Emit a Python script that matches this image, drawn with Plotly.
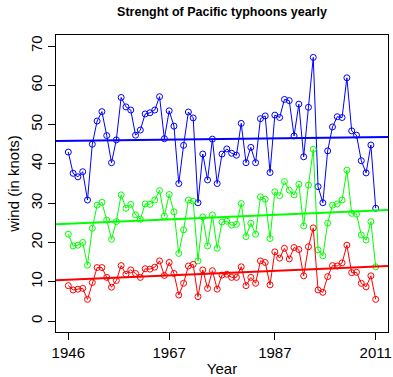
import numpy as np
import plotly.graph_objects as go

# Yearly typhoon wind strength (knots), one value per season
tick_labels = ["1946", "1967", "1987", "2011"]
tick_index = [1, 22, 44, 65]

wind_max = [43.0, 37.6, 36.7, 38.0, 30.8, 45.0, 50.9, 53.3, 47.2, 40.3,
            46.1, 56.9, 54.5, 53.7, 47.3, 48.6, 52.7, 53.0, 53.7, 57.1,
            46.4, 53.5, 49.6, 35.0, 44.7, 53.2, 51.7, 30.1, 42.5, 35.9,
            46.3, 35.0, 42.5, 43.8, 42.7, 42.2, 50.3, 40.3, 44.2, 40.3,
            51.5, 52.2, 37.8, 52.4, 51.8, 56.4, 56.1, 47.1, 55.2, 41.8,
            54.4, 67.1, 34.2, 30.1, 43.3, 49.4, 52.0, 51.8, 61.9, 48.4,
            47.3, 40.8, 37.7, 44.8, 28.7]

wind_mean = [22.1, 19.1, 19.3, 20.0, 14.2, 23.6, 29.5, 30.2, 25.7, 20.8,
             25.3, 32.1, 28.7, 29.7, 27.0, 25.9, 29.8, 29.7, 30.8, 33.2,
             26.7, 32.2, 27.8, 17.2, 23.2, 30.8, 30.5, 15.3, 26.5, 19.1,
             27.0, 18.5, 25.2, 25.4, 24.4, 24.6, 29.9, 21.5, 24.9, 22.1,
             31.6, 31.0, 21.0, 32.9, 31.9, 35.5, 33.3, 32.1, 34.8, 24.2,
             34.6, 43.7, 18.1, 16.6, 24.9, 29.5, 29.8, 30.8, 38.4, 27.4,
             27.2, 21.9, 20.6, 25.3, 13.8]

wind_min = [9.0, 7.9, 8.1, 8.3, 5.5, 9.8, 13.6, 13.6, 11.1, 8.6,
            10.3, 14.1, 11.9, 13.0, 12.1, 11.1, 13.3, 13.2, 13.7, 15.3,
            11.6, 14.9, 12.1, 6.6, 9.6, 14.0, 14.4, 6.2, 13.0, 8.3,
            12.8, 8.1, 11.7, 11.9, 11.1, 11.1, 13.8, 9.0, 11.1, 9.6,
            15.3, 14.9, 9.2, 17.6, 16.0, 18.5, 15.8, 18.7, 18.2, 11.5,
            18.9, 23.7, 7.9, 7.3, 11.3, 14.1, 14.0, 14.8, 19.3, 12.3,
            12.4, 9.6, 8.7, 11.5, 5.5]

series = [(wind_max, "#0000FF"), (wind_mean, "#00FF00"), (wind_min, "#FF0000")]

idx = np.arange(1, len(wind_max) + 1)
pad_x = 0.04 * (idx[-1] - idx[0])
x_range = [idx[0] - pad_x, idx[-1] + pad_x]
y_lim = [0, 70]
pad_y = 0.04 * (y_lim[1] - y_lim[0])
y_range = [y_lim[0] - pad_y, y_lim[1] + pad_y]

fig = go.Figure()
for values, color in series:
    fig.add_trace(go.Scatter(
        x=idx, y=values, mode="lines+markers",
        line=dict(color=color, width=1),
        marker=dict(symbol="circle-open", size=6, color=color,
                    line=dict(color=color, width=1)),
        showlegend=False, hoverinfo="skip"))
    # least-squares trend across the whole plotting region
    slope, intercept = np.polyfit(idx, values, 1)
    xs = np.array(x_range)
    fig.add_trace(go.Scatter(
        x=xs, y=slope * xs + intercept, mode="lines",
        line=dict(color=color, width=2),
        showlegend=False, hoverinfo="skip"))

font_family = "Liberation Sans, Arial, sans-serif"

fig.update_layout(
    width=393, height=377,
    margin=dict(l=56, r=5, t=35, b=45, autoexpand=False),
    plot_bgcolor="white", paper_bgcolor="white",
    font=dict(family=font_family, size=15, color="black"),
    title=dict(text="<b>Strenght of Pacific typhoons yearly</b>",
               font=dict(size=12.5, family=font_family, color="black"),
               x=(56 + 388) / 2 / 393, xanchor="center",
               y=1 - 12 / 377, yanchor="middle"),
    xaxis=dict(range=x_range, tickvals=tick_index, ticktext=tick_labels,
               showgrid=False, zeroline=False, automargin=False,
               showline=True, mirror=True, linecolor="black", linewidth=1,
               ticks="outside", ticklen=7, tickcolor="black", tickwidth=1,
               tickfont=dict(size=15),
               title=dict(text="Year", font=dict(size=15), standoff=4)),
    yaxis=dict(range=y_range, tickvals=list(range(0, 71, 10)),
               showgrid=False, zeroline=False, automargin=False,
               showline=True, mirror=True, linecolor="black", linewidth=1,
               ticks="outside", ticklen=7, tickcolor="black", tickwidth=1,
               tickangle=-90, tickfont=dict(size=15),
               title=dict(text="wind (in knots)", font=dict(size=15), standoff=4)),
)

fig.write_html("out.html")
